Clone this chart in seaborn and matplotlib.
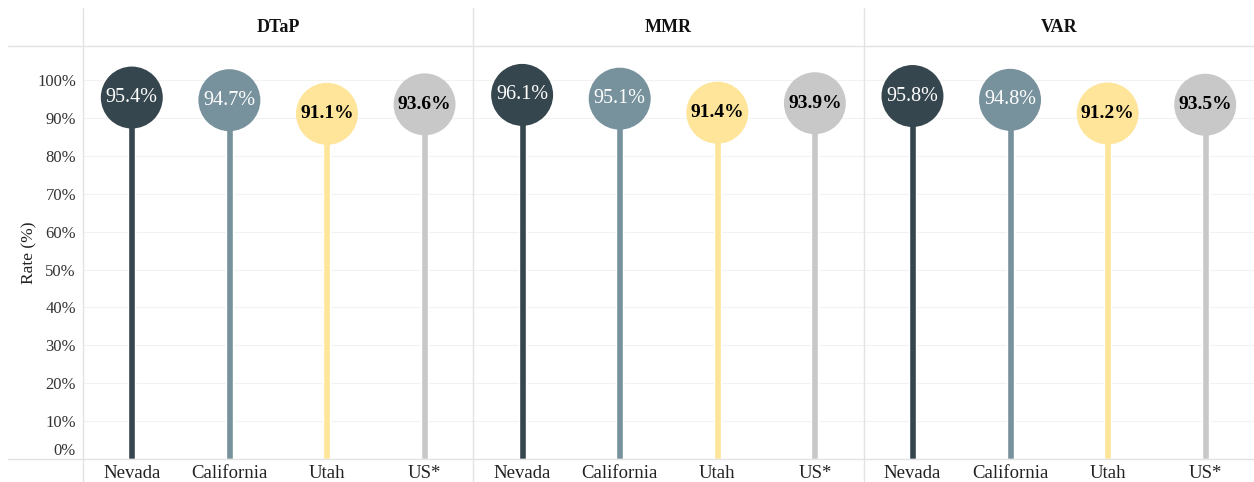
import pandas as pd
import matplotlib.pyplot as plt
from matplotlib.lines import Line2D
import seaborn as sns

# data
vaccines = ['DTaP', 'MMR', 'VAR']
states = ['Nevada', 'California', 'Utah', 'US*']
dtap_rate = [95.4, 94.7, 91.1, 93.6]
mmr_rate = [96.1, 95.1, 91.4, 93.9]
var_rate = [95.8, 94.8, 91.2, 93.5]
state_colors = ['#36464e', '#77929d', '#fee599', '#c8c8c8']
label_colors = ['white', 'white', 'black', 'black']
y_ticks = [0, 10, 20, 30, 40, 50, 60, 70, 80, 90, 100]

rates = {'DTaP': dtap_rate, 'MMR': mmr_rate, 'VAR': var_rate}
rows = []
for vac in vaccines:
    for st, val in zip(states, rates[vac]):
        rows.append({'Vaccine': vac, 'State': st, 'Rate': val})
df = pd.DataFrame(rows)

sns.set_theme(style='white')
plt.rcParams['font.family'] = ['Liberation Serif', 'DejaVu Serif']

W, H = 1254, 482
fig = plt.figure(figsize=(W / 100, H / 100), dpi=100)

left_px, right_px = 83, 1254
top_px, bottom_px = 46, 459
panel_w = (right_px - left_px) / 3
line_col = '#e3e3e3'
palette = dict(zip(states, state_colors))

for i, vac in enumerate(vaccines):
    x0 = left_px + i * panel_w
    ax = fig.add_axes([x0 / W, (H - bottom_px) / H, panel_w / W,
                       (bottom_px - top_px) / H])
    sub = df[df['Vaccine'] == vac]

    sns.barplot(data=sub, x='State', y='Rate', hue='State', palette=palette,
                width=0.072, legend=False, ax=ax, zorder=2, saturation=1)
    sns.scatterplot(data=sub, x='State', y='Rate', hue='State',
                    palette=palette, s=1990, linewidth=0, legend=False,
                    ax=ax, zorder=3)
    for j, (st, val) in enumerate(zip(sub['State'], sub['Rate'])):
        is_white = label_colors[j] == 'white'
        ax.text(j, val, f'{val}%', ha='center', va='center',
                fontsize=14.5 if is_white else 14,
                color=label_colors[j],
                fontweight='normal' if is_white else 'bold',
                zorder=4)

    ax.set_xlim(-0.5, 3.5)
    ax.set_ylim(0, 109)
    ax.set_yticks(y_ticks)
    ax.yaxis.grid(True, color='#f2f2f2', linewidth=0.8, zorder=0)
    ax.set_axisbelow(True)
    for sp in ax.spines.values():
        sp.set_visible(False)
    ax.set_xlabel('')
    ax.set_ylabel('')
    ax.set_xticks([0.5, 1.5, 2.5], minor=True)
    ax.tick_params(axis='x', which='major', length=0, labelsize=13.5,
                   pad=4, labelcolor='#222222')
    ax.tick_params(axis='x', which='minor', length=5, width=0.8,
                   color=line_col, direction='out')
    if i == 0:
        ax.set_yticklabels([f'{t}%' for t in y_ticks])
        ax.tick_params(axis='y', length=0, labelsize=12, pad=5,
                       labelcolor='#333333')
        ax.get_yticklabels()[0].set_va('bottom')
        ax.set_ylabel('Rate (%)', fontsize=12.5, color='#222222',
                      labelpad=0)
    else:
        ax.tick_params(axis='y', length=0, labelleft=False)

    fig.text((x0 + panel_w / 2) / W, (H - 27) / H, vac, ha='center',
             va='center', fontsize=13, fontweight='bold', color='#111111')

# panel frame lines
for xp in [left_px, left_px + panel_w, left_px + 2 * panel_w]:
    fig.add_artist(Line2D([xp / W, xp / W], [0, (H - 8) / H],
                          transform=fig.transFigure, color=line_col, lw=1))
for yp in [top_px, bottom_px]:
    fig.add_artist(Line2D([8 / W, 1], [(H - yp) / H, (H - yp) / H],
                          transform=fig.transFigure, color=line_col, lw=1))

fig.savefig('out.png', dpi=100, facecolor='white')
